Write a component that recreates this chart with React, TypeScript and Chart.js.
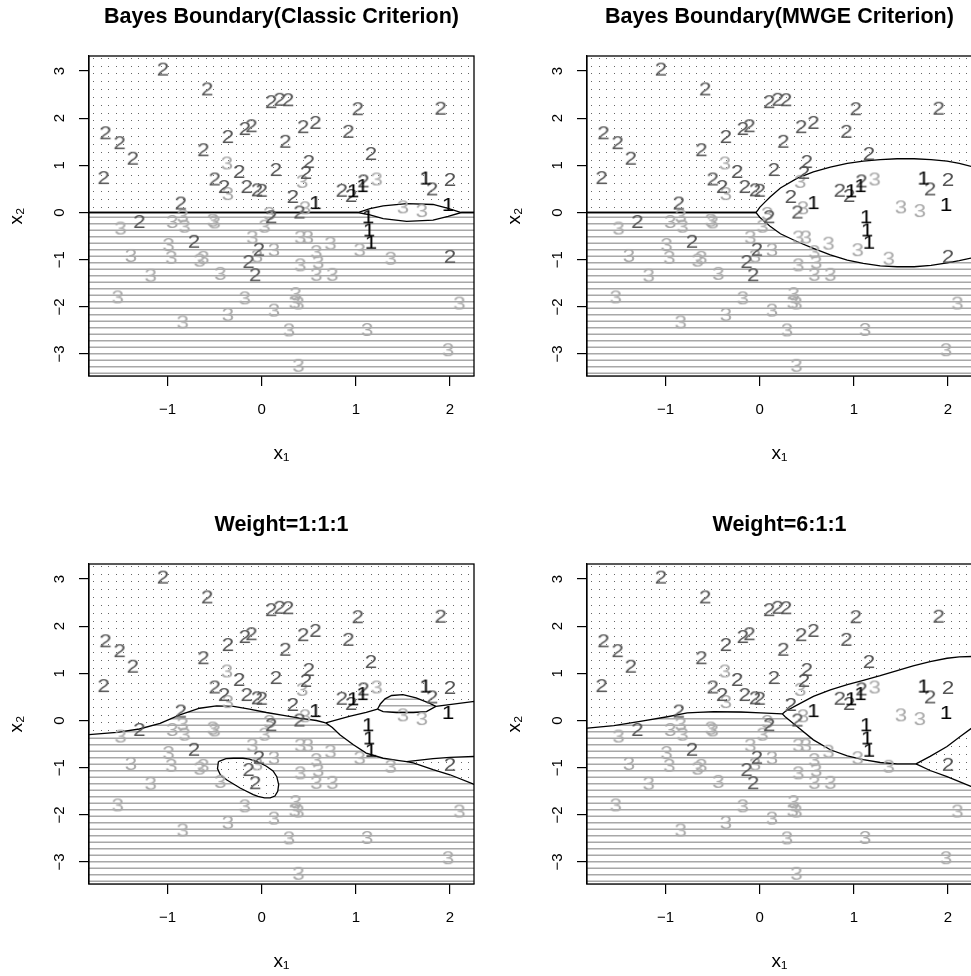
import React, { useEffect, useRef } from 'react';
import { Chart, registerables } from 'chart.js';

Chart.register(...registerables);
Chart.defaults.font.family = '"Liberation Sans", Arial, Helvetica, sans-serif';

type Pt = [number, number];

// ---------- axes ----------
const xRange: Pt = [-1.835, 2.255];
const yRange: Pt = [-3.466, 3.318];
const xTickValues = [-1, 0, 1, 2];
const xTickLabels = ['\u22121', '0', '1', '2'];
const yTickValues = [-3, -2, -1, 0, 1, 2, 3];
const yTickLabels = ['\u22123', '\u22122', '\u22121', '0', '1', '2', '3'];
const xAxisTitle = 'x\u2081';
const yAxisTitle = 'x\u2082';
const panelTitles = [
  'Bayes Boundary(Classic Criterion)',
  'Bayes Boundary(MWGE Criterion)',
  'Weight=1:1:1',
  'Weight=6:1:1',
];

// ---------- observations (same in all panels) ----------
const class1Points: Pt[] = [
  [0.57, 0.2], [0.97, 0.45], [1.07, 0.56], [1.74, 0.72], [1.98, 0.16],
  [1.13, -0.1], [1.14, -0.38], [1.16, -0.64],
];
const class2Points: Pt[] = [
  [-1.05, 3.03], [-0.58, 2.61], [0.1, 2.34], [0.19, 2.39], [0.28, 2.38], [1.02, 2.19], [1.9, 2.2],
  [-1.66, 1.68], [-1.51, 1.47], [-1.37, 1.14], [-1.68, 0.73], [-0.62, 1.32], [-0.36, 1.6], [-0.18, 1.77],
  [-0.11, 1.83], [0.44, 1.81], [0.57, 1.9], [0.92, 1.71], [0.25, 1.5], [1.16, 1.24], [0.5, 1.07],
  [0.47, 0.84], [0.15, 0.9], [-0.24, 0.86], [-0.5, 0.7], [-0.4, 0.54], [-0.16, 0.54], [-0.05, 0.47],
  [0.0, 0.46], [0.33, 0.33], [-0.86, 0.19], [0.85, 0.46], [0.95, 0.35], [1.08, 0.66], [1.81, 0.49],
  [2.0, 0.69], [0.4, 0.0], [0.1, -0.1], [-1.3, -0.2], [-0.72, -0.62], [-0.03, -0.79], [-0.14, -1.05],
  [-0.07, -1.33], [2.0, -0.94],
];
const class3Points: Pt[] = [
  [-0.37, 1.04], [-0.36, 0.39], [0.43, 0.65], [0.46, 0.09], [1.22, 0.7], [1.5, 0.11], [1.7, 0.03],
  [0.08, -0.03], [-1.5, -0.34], [-0.95, -0.2], [-0.84, -0.08], [-0.82, -0.3], [-0.52, -0.17],
  [-0.5, -0.21], [0.03, -0.3], [-0.1, -0.53], [-0.99, -0.69], [-1.39, -0.92], [-0.96, -0.96],
  [-0.66, -1.02], [-0.62, -0.96], [-0.05, -0.93], [0.13, -0.8], [-1.18, -1.34], [-0.44, -1.3],
  [-1.53, -1.8], [-0.18, -1.82], [0.13, -2.08], [-0.36, -2.17], [-0.84, -2.33], [0.41, -0.53],
  [0.49, -0.53], [0.73, -0.66], [1.04, -0.8], [1.37, -0.98], [0.41, -1.12], [0.58, -0.84],
  [0.6, -1.06], [0.58, -1.32], [0.75, -1.32], [0.36, -1.73], [0.35, -1.91], [0.39, -1.93],
  [2.1, -1.93], [0.29, -2.5], [1.12, -2.49], [1.98, -2.92], [0.39, -3.25],
];

// ---------- decision boundaries ----------
// Panel 1: classic criterion
const classicUpper: Pt[] = [[-1.9, 0], [1.02, 0], [1.15, 0.08], [1.29, 0.14], [1.54, 0.19], [1.82, 0.17], [1.98, 0.09], [2.12, 0], [2.3, 0]];
const classicLower: Pt[] = [[-1.9, 0], [1.02, 0], [1.15, -0.05], [1.29, -0.13], [1.54, -0.19], [1.82, -0.16], [1.98, -0.08], [2.12, 0], [2.3, 0]];
// Panel 2: MWGE criterion
const mwgeUpper: Pt[] = [[-1.9, 0], [-0.04, 0], [-0.02, 0.05], [0.0, 0.11], [0.05, 0.21], [0.11, 0.33], [0.22, 0.52], [0.4, 0.73], [0.57, 0.86], [0.75, 0.96], [0.93, 1.04], [1.1, 1.09], [1.28, 1.12], [1.46, 1.14], [1.64, 1.14], [1.82, 1.12], [1.99, 1.09], [2.12, 1.04], [2.3, 0.95]];
const mwgeLower: Pt[] = [[-1.9, 0], [-0.04, 0], [-0.02, -0.05], [0.0, -0.1], [0.05, -0.19], [0.11, -0.29], [0.22, -0.45], [0.4, -0.62], [0.57, -0.76], [0.75, -0.9], [0.93, -1.01], [1.1, -1.08], [1.28, -1.13], [1.46, -1.15], [1.64, -1.15], [1.82, -1.12], [1.99, -1.07], [2.12, -1.02], [2.3, -0.94]];
// Panel 3: weight 1:1:1
const w111Left: Pt[] = [[-1.9, -0.31], [-1.84, -0.3], [-1.54, -0.25], [-1.3, -0.18], [-1.08, -0.06], [-0.87, 0.12], [-0.66, 0.26], [-0.48, 0.31], [-0.3, 0.3], [-0.13, 0.24], [0.05, 0.17], [0.23, 0.11], [0.4, 0.05], [0.58, 0.0], [0.68, -0.05]];
const w111Mid: Pt[] = [[0.68, -0.05], [0.93, 0.09], [1.11, 0.17], [1.23, 0.24]];
const w111BubbleTop: Pt[] = [[1.23, 0.24], [1.26, 0.35], [1.31, 0.46], [1.38, 0.53], [1.5, 0.55], [1.64, 0.48], [1.78, 0.37], [1.85, 0.3]];
const w111BubbleBottom: Pt[] = [[1.23, 0.24], [1.29, 0.19], [1.43, 0.17], [1.61, 0.17], [1.75, 0.19], [1.85, 0.3]];
const w111Right: Pt[] = [[1.85, 0.3], [2.24, 0.4], [2.3, 0.41]];
const w111Lower: Pt[] = [[0.68, -0.05], [0.75, -0.15], [0.83, -0.3], [0.97, -0.51], [1.11, -0.69], [1.29, -0.8], [1.46, -0.85], [1.54, -0.87], [1.61, -0.9], [1.82, -1.04], [2.0, -1.15], [2.25, -1.35], [2.3, -1.39]];
const w111IslandTop: Pt[] = [[1.54, -0.87], [1.82, -0.81], [2.0, -0.78], [2.3, -0.76]];
const w111Ellipse: Pt[] = [[-0.46, -0.87], [-0.38, -0.81], [-0.3, -0.8], [-0.2, -0.8], [-0.13, -0.82], [-0.04, -0.88], [0.05, -0.97], [0.12, -1.07], [0.16, -1.19], [0.18, -1.36], [0.17, -1.5], [0.14, -1.6], [0.09, -1.64], [0.03, -1.64], [-0.04, -1.61], [-0.09, -1.57], [-0.23, -1.43], [-0.37, -1.26], [-0.44, -1.15], [-0.47, -1.02], [-0.46, -0.87]];
// Panel 4: weight 6:1:1
const w611Left: Pt[] = [[-1.9, -0.17], [-1.83, -0.16], [-1.55, -0.11], [-1.27, -0.02], [-0.98, 0.08], [-0.77, 0.16], [-0.49, 0.19], [-0.2, 0.18], [0.01, 0.16], [0.24, 0.14]];
const w611Upper: Pt[] = [[0.24, 0.14], [0.27, 0.19], [0.4, 0.33], [0.57, 0.51], [0.75, 0.65], [0.93, 0.76], [1.1, 0.85], [1.28, 0.95], [1.46, 1.06], [1.63, 1.16], [1.81, 1.25], [1.99, 1.32], [2.12, 1.35], [2.3, 1.36]];
const w611Lower: Pt[] = [[0.24, 0.14], [0.27, 0.08], [0.4, -0.13], [0.57, -0.41], [0.75, -0.62], [0.93, -0.75], [1.1, -0.83], [1.28, -0.89], [1.46, -0.92], [1.66, -0.92]];
const w611RightUp: Pt[] = [[1.66, -0.92], [1.81, -0.76], [1.99, -0.55], [2.13, -0.34], [2.3, -0.09]];
const w611RightDown: Pt[] = [[1.66, -0.92], [1.81, -1.06], [1.99, -1.19], [2.25, -1.4], [2.3, -1.44]];

// ---------- region construction ----------
const LO_X = -1.95, HI_X = 2.35, LO_Y = -3.6, HI_Y = 3.5;
type Kind = 'dots' | 'lines' | 'blank';
interface Region { pts: Pt[]; kind: Kind }
interface PanelSpec { title: string; regions: Region[]; curves: Pt[][] }

const rev = (a: Pt[]): Pt[] => [...a].reverse();
const topCap = (b: Pt[]): Pt[] => [...b, [HI_X, b[b.length - 1][1]], [HI_X, HI_Y], [LO_X, HI_Y], [LO_X, b[0][1]]];
const fullRect: Pt[] = [[LO_X, LO_Y], [HI_X, LO_Y], [HI_X, HI_Y], [LO_X, HI_Y]];

function buildPanel(i: number): PanelSpec {
  if (i === 0) {
    return {
      title: panelTitles[0],
      regions: [
        { pts: fullRect, kind: 'lines' },
        { pts: topCap(classicUpper), kind: 'dots' },
        { pts: [...classicUpper, ...rev(classicLower)], kind: 'blank' },
      ],
      curves: [classicUpper, classicLower],
    };
  }
  if (i === 1) {
    return {
      title: panelTitles[1],
      regions: [
        { pts: fullRect, kind: 'lines' },
        { pts: topCap(mwgeUpper), kind: 'dots' },
        { pts: [...mwgeUpper, [HI_X, mwgeUpper[mwgeUpper.length - 1][1]], [HI_X, mwgeLower[mwgeLower.length - 1][1]], ...rev(mwgeLower)], kind: 'blank' },
      ],
      curves: [mwgeUpper, mwgeLower],
    };
  }
  if (i === 2) {
    const upper = [...w111Left, ...w111Mid.slice(1), ...w111BubbleTop.slice(1), ...w111Right.slice(1)];
    const class1Top = [...w111Mid, ...w111BubbleBottom.slice(1), ...w111Right.slice(1)];
    return {
      title: panelTitles[2],
      regions: [
        { pts: fullRect, kind: 'lines' },
        { pts: topCap(upper), kind: 'dots' },
        { pts: [...class1Top, [HI_X, 0.42], [HI_X, -1.4], ...rev(w111Lower)], kind: 'blank' },
        { pts: [...w111BubbleTop, ...rev(w111BubbleBottom)], kind: 'lines' },
        { pts: [...w111IslandTop, [HI_X, -0.76], [HI_X, -1.4], ...rev(w111Lower.filter((p) => p[0] > 1.54))], kind: 'dots' },
        { pts: w111Ellipse, kind: 'dots' },
      ],
      curves: [w111Left, w111Mid, w111BubbleTop, w111BubbleBottom, w111Right, w111Lower, w111IslandTop, w111Ellipse],
    };
  }
  return {
    title: panelTitles[3],
    regions: [
      { pts: fullRect, kind: 'lines' },
      { pts: topCap([...w611Left, ...w611Upper.slice(1)]), kind: 'dots' },
      { pts: [...w611Upper, [HI_X, 1.36], [HI_X, -0.08], ...rev(w611RightUp), ...rev(w611Lower).slice(1)], kind: 'blank' },
      { pts: [...w611RightUp, [HI_X, -0.08], [HI_X, -1.45], ...rev(w611RightDown).slice(0, -1)], kind: 'dots' },
    ],
    curves: [w611Left, w611Upper, w611Lower, w611RightUp, w611RightDown],
  };
}

// ---------- drawing helpers ----------
function makePatterns() {
  const dots = document.createElement('canvas');
  dots.width = 15; dots.height = 47;
  const d = dots.getContext('2d')!;
  d.fillStyle = '#ffffff'; d.fillRect(0, 0, 15, 47);
  d.fillStyle = '#666666';
  for (const yy of [3, 11, 19, 26, 34, 42]) for (const xx of [3, 11]) d.fillRect(xx, yy, 1, 1);
  const lines = document.createElement('canvas');
  lines.width = 8; lines.height = 13;
  const l = lines.getContext('2d')!;
  l.fillStyle = '#ffffff'; l.fillRect(0, 0, 8, 13);
  l.fillStyle = '#a8a8a8';
  l.fillRect(0, 2, 8, 1.5);
  l.fillRect(0, 8.5, 8, 1.5);
  const ctx = document.createElement('canvas').getContext('2d')!;
  return {
    dots: ctx.createPattern(dots, 'repeat') as CanvasPattern,
    lines: ctx.createPattern(lines, 'repeat') as CanvasPattern,
    blank: '#ffffff',
  };
}

function makeLabelImage(text: string, color: string): HTMLCanvasElement {
  const c = document.createElement('canvas');
  c.width = 28; c.height = 26;
  const g = c.getContext('2d')!;
  g.fillStyle = color;
  g.font = '18px "Liberation Sans", Arial, sans-serif';
  g.textAlign = 'center';
  g.textBaseline = 'alphabetic';
  g.translate(14, 0);
  g.scale(1.25, 1);
  g.fillText(text, 0, 13 + (0.716 * 18) / 2);
  return c;
}

const boxPlugin = {
  id: 'plotBox',
  afterDatasetsDraw(chart: any) {
    const { ctx, chartArea: a } = chart;
    ctx.save();
    ctx.strokeStyle = '#000';
    ctx.lineWidth = 1.3;
    ctx.strokeRect(a.left, a.top, a.right - a.left, a.bottom - a.top);
    ctx.restore();
  },
};

const toXY = (a: Pt[]) => a.map(([x, y]) => ({ x, y }));

function Panel({ index, left, top }: { index: number; left: number; top: number }) {
  const ref = useRef<HTMLCanvasElement>(null);
  useEffect(() => {
    const canvas = ref.current!;
    const pats = makePatterns();
    const spec = buildPanel(index);
    const datasets: any[] = [];
    let order = 1000;
    for (const r of spec.regions) {
      datasets.push({
        type: 'line', data: toXY(r.pts), fill: 'shape', backgroundColor: pats[r.kind],
        borderWidth: 0, borderColor: 'rgba(0,0,0,0)', pointRadius: 0, tension: 0, order: order--,
      });
    }
    for (const c of spec.curves) {
      datasets.push({
        type: 'line', data: toXY(c), fill: false, borderColor: '#000', borderWidth: 1.3,
        pointRadius: 0, tension: 0, order: order--,
      });
    }
    const labelSets: [Pt[], string, string][] = [
      [class3Points, '3', '#aaaaaa'],
      [class2Points, '2', '#555555'],
      [class1Points, '1', '#000000'],
    ];
    for (const [pts, txt, col] of labelSets) {
      datasets.push({
        type: 'scatter', data: toXY(pts), pointStyle: makeLabelImage(txt, col),
        pointRadius: 3, order: order--,
      });
    }
    const tickFont = { size: 15 };
    const chart = new Chart(canvas, {
      type: 'scatter',
      data: { datasets },
      plugins: [boxPlugin],
      options: {
        animation: false,
        responsive: false,
        events: [],
        layout: { padding: 0 },
        plugins: {
          legend: { display: false },
          tooltip: { enabled: false },
          title: {
            display: true, text: spec.title, color: '#000',
            font: { size: 21.5, weight: 'bold', lineHeight: 1.2 },
            padding: { top: 4, bottom: 26.2 },
          },
        },
        scales: {
          x: {
            type: 'linear', position: 'bottom', min: xRange[0], max: xRange[1],
            afterBuildTicks: (s: any) => { s.ticks = xTickValues.map((v) => ({ value: v })); },
            afterFit: (s: any) => { s.height = 94; },
            ticks: {
              color: '#000', font: tickFont, padding: 15, maxRotation: 0, minRotation: 0, autoSkip: false,
              callback: (v: any) => xTickLabels[xTickValues.indexOf(Number(v))] ?? '',
            },
            grid: { drawOnChartArea: false, drawTicks: true, tickLength: 10, color: '#000', lineWidth: 1.2 },
            border: { display: true, color: '#000', width: 1.3 },
            title: { display: true, text: xAxisTitle, color: '#000', font: { size: 19, lineHeight: 1.2 }, padding: { top: 0, bottom: 5 } },
          },
          y: {
            type: 'linear', position: 'left', min: yRange[0], max: yRange[1],
            afterBuildTicks: (s: any) => { s.ticks = yTickValues.map((v) => ({ value: v })); },
            afterFit: (s: any) => { s.width = 89; },
            ticks: {
              color: '#000', font: tickFont, padding: 10.5, minRotation: 90, maxRotation: 90, crossAlign: 'center', autoSkip: false,
              callback: (v: any) => yTickLabels[yTickValues.indexOf(Number(v))] ?? '',
            },
            grid: { drawOnChartArea: false, drawTicks: true, tickLength: 10, color: '#000', lineWidth: 1.2 },
            border: { display: true, color: '#000', width: 1.3 },
            title: { display: true, text: yAxisTitle, color: '#000', font: { size: 19, lineHeight: 1.2 }, padding: { top: 5.5, bottom: 0 } },
          },
          yRight: {
            type: 'linear', position: 'right', display: true, min: 0, max: 1,
            afterFit: (s: any) => { s.width = 89; },
            ticks: { display: false }, grid: { display: false }, border: { display: false },
          },
        },
      } as any,
    });
    return () => chart.destroy();
  }, [index]);
  return <canvas ref={ref} width={563} height={470} style={{ position: 'absolute', left, top }} />;
}

export default function App() {
  return (
    <div style={{ position: 'absolute', left: 0, top: 0, width: 971, height: 976, overflow: 'hidden', background: '#fff' }}>
      {[0, 1, 2, 3].map((i) => (
        <Panel key={i} index={i} left={(i % 2) * 498} top={Math.floor(i / 2) * 508} />
      ))}
    </div>
  );
}
